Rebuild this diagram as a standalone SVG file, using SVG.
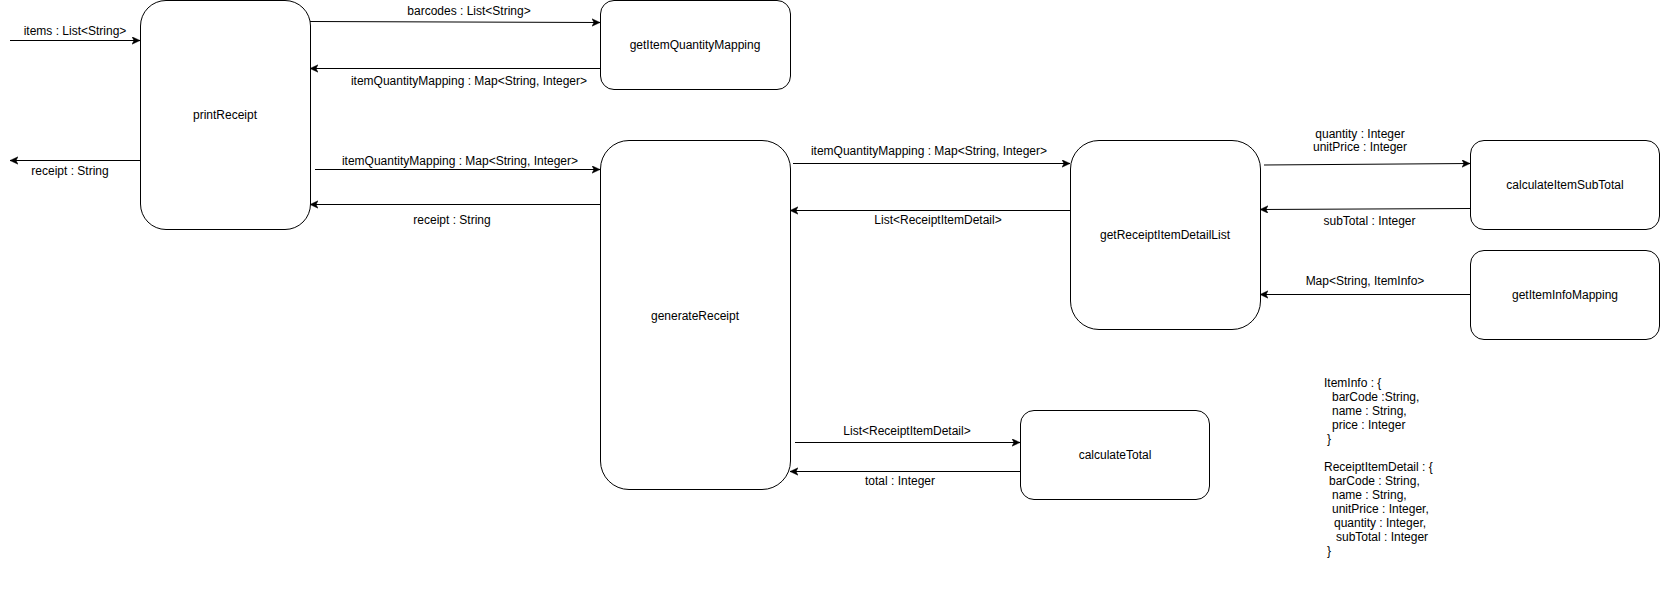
<svg xmlns="http://www.w3.org/2000/svg" width="1661" height="591" viewBox="0 0 1661 591">
<style>
.box{fill:#fff;stroke:#000;stroke-width:1}
.t{font-family:"Liberation Sans",Arial,sans-serif;font-size:12px;fill:#000;text-anchor:middle}
.l{font-family:"Liberation Sans",Arial,sans-serif;font-size:12px;fill:#000}
.c{fill:none;stroke:#000;stroke-width:1;marker-end:url(#arr)}
</style>
<defs>
<marker id="arr" markerUnits="userSpaceOnUse" markerWidth="10" markerHeight="10" viewBox="0 0 10 10" refX="8" refY="4" orient="auto">
<path d="M0,0.3 L8,4 L0,7.7 L2,4 Z" fill="#000" stroke="#000" stroke-width="0.5"/>
</marker>
</defs>
<rect width="1661" height="591" fill="#fff"/>
<g id="connectors">
<path class="c" d="M10,40.5 L140,40.5"/>
<text class="t" x="75" y="35">items : List&lt;String&gt;</text>
<path class="c" d="M140,160.5 L10,160.5"/>
<text class="t" x="70" y="175">receipt : String</text>
<path class="c" d="M310,21.5 L600,22.5"/>
<text class="t" x="469" y="15">barcodes : List&lt;String&gt;</text>
<path class="c" d="M600,68.5 L310,68.5"/>
<text class="t" x="469" y="84.5">itemQuantityMapping : Map&lt;String, Integer&gt;</text>
<path class="c" d="M315,169.5 L600,169.5"/>
<text class="t" x="460" y="165">itemQuantityMapping : Map&lt;String, Integer&gt;</text>
<path class="c" d="M600,204.5 L310,204.5"/>
<text class="t" x="452" y="224">receipt : String</text>
<path class="c" d="M793,163.5 L1070,163.5"/>
<text class="t" x="929" y="154.5">itemQuantityMapping : Map&lt;String, Integer&gt;</text>
<path class="c" d="M1070,210.5 L790,210.5"/>
<text class="t" x="938" y="224">List&lt;ReceiptItemDetail&gt;</text>
<path class="c" d="M1264,165 L1470,163.5"/>
<text class="t" x="1360" y="138">quantity : Integer</text>
<text class="t" x="1360" y="151">unitPrice : Integer</text>
<path class="c" d="M1470,208.5 L1260,209.5"/>
<text class="t" x="1369.5" y="224.5">subTotal : Integer</text>
<path class="c" d="M1470,294.5 L1260,294.5"/>
<text class="t" x="1365" y="285">Map&lt;String, ItemInfo&gt;</text>
<path class="c" d="M795,442.5 L1020,442.5"/>
<text class="t" x="907" y="435">List&lt;ReceiptItemDetail&gt;</text>
<path class="c" d="M1020,471.5 L790,471.5"/>
<text class="t" x="900" y="485">total : Integer</text>
</g>
<g id="printReceipt">
<rect class="box" x="140.5" y="0.5" width="170" height="229" rx="25.5"/>
<text class="t" x="225" y="119">printReceipt</text>
</g>
<g id="getItemQuantityMapping">
<rect class="box" x="600.5" y="0.5" width="190" height="89" rx="13.5"/>
<text class="t" x="695" y="49">getItemQuantityMapping</text>
</g>
<g id="generateReceipt">
<rect class="box" x="600.5" y="140.5" width="190" height="349" rx="28.5"/>
<text class="t" x="695" y="319.5">generateReceipt</text>
</g>
<g id="getReceiptItemDetailList">
<rect class="box" x="1070.5" y="140.5" width="190" height="189" rx="28.5"/>
<text class="t" x="1165" y="239">getReceiptItemDetailList</text>
</g>
<g id="calculateItemSubTotal">
<rect class="box" x="1470.5" y="140.5" width="189" height="89" rx="13.5"/>
<text class="t" x="1565" y="189">calculateItemSubTotal</text>
</g>
<g id="getItemInfoMapping">
<rect class="box" x="1470.5" y="250.5" width="189" height="89" rx="13.5"/>
<text class="t" x="1565" y="299">getItemInfoMapping</text>
</g>
<g id="calculateTotal">
<rect class="box" x="1020.5" y="410.5" width="189" height="89" rx="13.5"/>
<text class="t" x="1115" y="459">calculateTotal</text>
</g>
<g id="typesNote">
<text class="l" x="1324" y="386.5">ItemInfo : {</text>
<text class="l" x="1332" y="400.5">barCode :String,</text>
<text class="l" x="1332" y="414.5">name : String,</text>
<text class="l" x="1332" y="428.5">price : Integer</text>
<text class="l" x="1327" y="442.5">}</text>
<text class="l" x="1324" y="470.5">ReceiptItemDetail : {</text>
<text class="l" x="1329" y="484.5">barCode : String,</text>
<text class="l" x="1332" y="498.5">name : String,</text>
<text class="l" x="1332" y="512.5">unitPrice : Integer,</text>
<text class="l" x="1334" y="526.5">quantity : Integer,</text>
<text class="l" x="1336" y="540.5">subTotal : Integer</text>
<text class="l" x="1327" y="554.5">}</text>
</g>
</svg>
